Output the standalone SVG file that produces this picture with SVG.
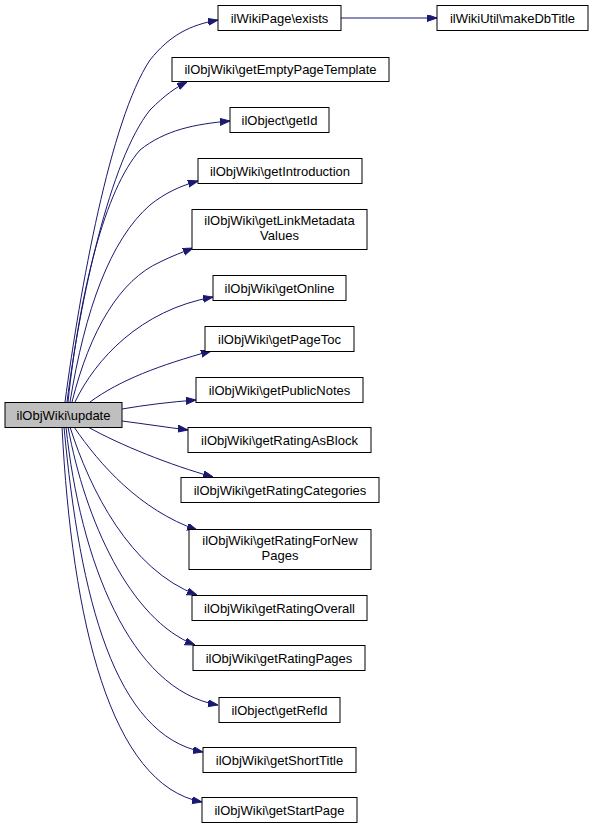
<svg xmlns="http://www.w3.org/2000/svg" width="595" height="829" viewBox="0 0 595 829">
<style>
.n rect{fill:#fff;stroke:#000;stroke-width:1}
.n.cur rect{fill:#bfbfbf}
.n text{font-family:"Liberation Sans",Arial,sans-serif;font-size:13px;text-anchor:middle;fill:#000}
.e path{fill:none;stroke:#191970;stroke-width:1;marker-end:url(#ah)}
</style>
<defs>
<marker id="ah" markerUnits="userSpaceOnUse" markerWidth="10" markerHeight="8" refX="10" refY="3.5" orient="auto">
<path d="M0,0 L10,3.5 L0,7 z" fill="#191970" stroke="#191970"/>
</marker>
</defs>
<rect width="595" height="829" fill="#fff"/>
<g id="edges" class="e">
<path d="M341,18 L437,18"/>
<path d="M65,402 C80,290 110,120 150,60 C170,35 190,25 218,20"/>
<path d="M67,402 C80,300 110,160 150,110 C165,95 175,88 187,82"/>
<path d="M68,402 C80,290 105,190 140,150 C165,130 195,124 230,121"/>
<path d="M70,402 C85,310 110,240 150,205 C165,193 180,186 198,181"/>
<path d="M72,402 C90,330 120,280 160,262 C172,256 183,252 193,248"/>
<path d="M75,402 C95,360 140,310 213,297"/>
<path d="M90,402 C120,380 160,365 211,351"/>
<path d="M122,409 C145,405 170,402 196,400"/>
<path d="M122,421 C145,424 165,427 188,430"/>
<path d="M88,427 C120,445 170,465 213,477"/>
<path d="M74,427 C100,465 140,510 197,530"/>
<path d="M70,427 C90,490 130,570 197,595"/>
<path d="M68,427 C85,520 130,620 195,645"/>
<path d="M66,427 C80,560 130,690 218,705"/>
<path d="M64,427 C80,600 115,735 203,752"/>
<path d="M62,427 C72,620 110,785 202,802"/>
</g>
<g id="n_update" class="n cur"><rect x="5" y="402.5" width="117" height="25"/><text x="63.5" y="419.5">ilObjWiki\update</text></g>
<g id="n_exists" class="n"><rect x="218" y="5.5" width="123" height="25"/><text x="279.5" y="22.5">ilWikiPage\exists</text></g>
<g id="n_makeDbTitle" class="n"><rect x="437" y="5.5" width="151" height="25"/><text x="512.5" y="22.5">ilWikiUtil\makeDbTitle</text></g>
<g id="n_getEmptyPageTemplate" class="n"><rect x="172" y="57.5" width="217" height="24"/><text x="280.5" y="74">ilObjWiki\getEmptyPageTemplate</text></g>
<g id="n_getId" class="n"><rect x="230" y="107.5" width="99" height="25"/><text x="279.5" y="124.5">ilObject\getId</text></g>
<g id="n_getIntroduction" class="n"><rect x="198" y="158.5" width="164" height="25"/><text x="280" y="175.5">ilObjWiki\getIntroduction</text></g>
<g id="n_getLinkMetadataValues" class="n"><rect x="192" y="209.5" width="175" height="40"/><text x="279.5" y="225">ilObjWiki\getLinkMetadata</text><text x="279.5" y="239.5">Values</text></g>
<g id="n_getOnline" class="n"><rect x="213" y="275.5" width="133" height="25"/><text x="279.5" y="292.5">ilObjWiki\getOnline</text></g>
<g id="n_getPageToc" class="n"><rect x="205" y="326.5" width="149" height="25"/><text x="279.5" y="343.5">ilObjWiki\getPageToc</text></g>
<g id="n_getPublicNotes" class="n"><rect x="196" y="377.5" width="167" height="25"/><text x="279.5" y="394.5">ilObjWiki\getPublicNotes</text></g>
<g id="n_getRatingAsBlock" class="n"><rect x="188" y="427.5" width="183" height="25"/><text x="279.5" y="444.5">ilObjWiki\getRatingAsBlock</text></g>
<g id="n_getRatingCategories" class="n"><rect x="181" y="477.5" width="198" height="25"/><text x="280" y="494.5">ilObjWiki\getRatingCategories</text></g>
<g id="n_getRatingForNewPages" class="n"><rect x="189" y="529.5" width="182" height="40"/><text x="280" y="545">ilObjWiki\getRatingForNew</text><text x="280" y="559.5">Pages</text></g>
<g id="n_getRatingOverall" class="n"><rect x="192" y="595.5" width="175" height="25"/><text x="279.5" y="612.5">ilObjWiki\getRatingOverall</text></g>
<g id="n_getRatingPages" class="n"><rect x="193" y="645.5" width="172" height="25"/><text x="279" y="662.5">ilObjWiki\getRatingPages</text></g>
<g id="n_getRefId" class="n"><rect x="219" y="697.5" width="121" height="25"/><text x="279.5" y="714.5">ilObject\getRefId</text></g>
<g id="n_getShortTitle" class="n"><rect x="203" y="747.5" width="153" height="25"/><text x="279.5" y="764.5">ilObjWiki\getShortTitle</text></g>
<g id="n_getStartPage" class="n"><rect x="202" y="797.5" width="155" height="25"/><text x="279.5" y="814.5">ilObjWiki\getStartPage</text></g>
</svg>
